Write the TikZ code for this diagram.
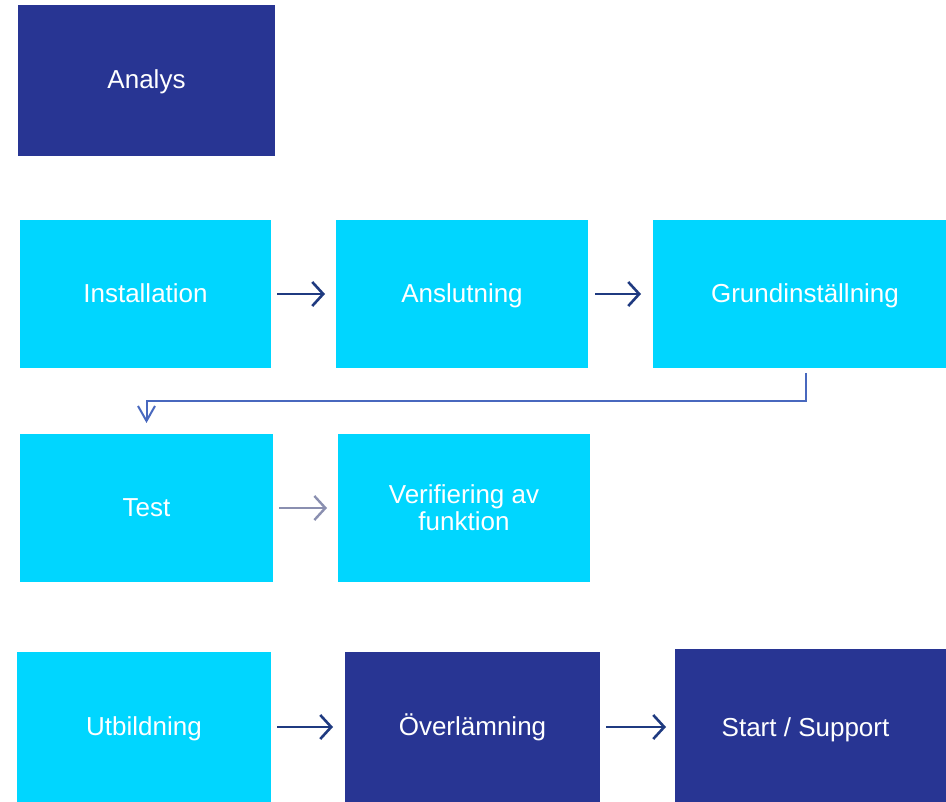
\documentclass[tikz,border=0pt]{standalone}
\usepackage{fontspec}
\setmainfont{Liberation Sans}
\usetikzlibrary{arrows.meta}
\definecolor{navybox}{RGB}{40,53,147}
\definecolor{cyanbox}{RGB}{0,214,255}
\definecolor{darkarrow}{RGB}{31,58,128}
\definecolor{midarrow}{RGB}{72,104,190}
\definecolor{grayarrow}{RGB}{138,143,176}
\begin{document}
\begin{tikzpicture}[x=1pt,y=-1pt,
  boxbase/.style={rectangle, inner sep=0pt, outer sep=0pt, text=white, align=center,
    font=\fontsize{26}{27}\selectfont},
  oneline/.style={text height=21pt, text depth=4pt},
  cyanstep/.style={boxbase, fill=cyanbox},
  navystep/.style={boxbase, fill=navybox},
  flowarrow/.style={draw=darkarrow, line width=2.6pt, -{Straight Barb[length=11pt,width=24pt]}},
  grayflow/.style={draw=grayarrow, line width=2.4pt, -{Straight Barb[length=11pt,width=24pt]}},
  bendflow/.style={draw=midarrow, line width=2pt, -{Straight Barb[length=15pt,width=17pt]}}]
\useasboundingbox (0,0) rectangle (946,802);
\node[navystep, oneline, minimum width=257pt, minimum height=151pt] (analys) at (146.5,80.5) {Analys};
\node[cyanstep, oneline, minimum width=251pt, minimum height=148pt] (inst) at (145.5,294) {Installation};
\node[cyanstep, oneline, minimum width=252pt, minimum height=148pt] (ansl) at (462,294) {Anslutning};
\node[cyanstep, oneline, minimum width=293pt, minimum height=148pt] (grund) at (799.5,294) {\hspace*{11pt}Grundinställning};
\node[cyanstep, oneline, minimum width=253pt, minimum height=148pt] (test) at (146.5,508) {Test};
\node[cyanstep, minimum width=252pt, minimum height=148pt] (verif) at (464,508) {Verifiering av\\funktion};
\node[cyanstep, oneline, minimum width=254pt, minimum height=150pt] (utb) at (144,727) {Utbildning};
\node[navystep, oneline, minimum width=255pt, minimum height=150pt] (over) at (472.5,727) {Överlämning};
\node[navystep, oneline, minimum width=271pt, minimum height=153pt] (start) at (810.5,725.5) {\raisebox{-2pt}{Start / Support}\hspace*{10pt}};
\coordinate (bend) at (0,401);
\draw[flowarrow, shorten <=6pt, shorten >=11pt] (inst.east) -- (ansl.west);
\draw[flowarrow, shorten <=7pt, shorten >=12pt] (ansl.east) -- (grund.west);
\draw[grayflow, shorten <=6pt, shorten >=11pt] (test.east) -- (verif.west);
\draw[flowarrow, shorten <=6pt, shorten >=12pt] (utb.east |- 0,727) -- (over.west |- 0,727);
\draw[flowarrow, shorten <=6pt, shorten >=9pt] (over.east |- 0,727) -- (start.west |- 0,727);
\draw[bendflow] ([shift={(6.5pt,-5pt)}]grund.south) |- (bend -| test.north) -- ([yshift=11pt]test.north);
\end{tikzpicture}
\end{document}
